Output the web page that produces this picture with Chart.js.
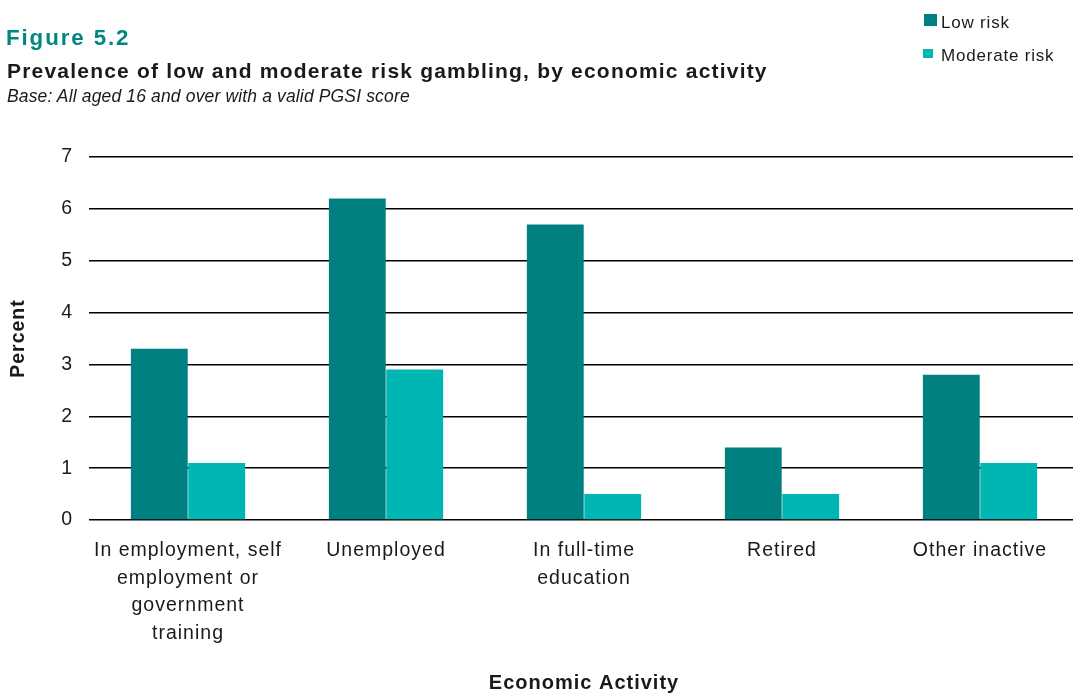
<!DOCTYPE html>
<html>
<head>
<meta charset="utf-8">
<title>Figure 5.2</title>
<script src="https://cdn.jsdelivr.net/npm/chart.js@4"></script>
<style>
  html, body { margin: 0; padding: 0; background: #fff; overflow: hidden; }
  body { width: 1073px; height: 693px; position: relative; font-family: 'Liberation Sans', Arial, sans-serif; color: #1a1a1a; }
  #wrap { position: absolute; left: 0; top: 0; width: 1082px; height: 693px; }
  .txt { position: absolute; line-height: 1; white-space: nowrap; }
  .fig-no { left: 6px; top: 27px; font-size: 22.3px; font-weight: bold; color: #00877f; letter-spacing: 1.9px; }
  .fig-title { left: 7px; top: 59.5px; font-size: 21px; font-weight: bold; letter-spacing: 1.2px; }
  .fig-base { left: 7px; top: 87.7px; font-size: 17.5px; font-style: italic; letter-spacing: 0.15px; }
  .swatch { position: absolute; }
  .legend-txt { font-size: 17px; letter-spacing: 0.8px; }
</style>
</head>
<body>
<div id="wrap"><canvas id="chart"></canvas></div>

<div class="txt fig-no">Figure 5.2</div>
<div class="txt fig-title">Prevalence of low and moderate risk gambling, by economic activity</div>
<div class="txt fig-base">Base: All aged 16 and over with a valid PGSI score</div>

<div class="swatch" style="left:924px;top:14px;width:13px;height:12px;background:#008080"></div>
<div class="txt legend-txt" style="left:941px;top:13.6px">Low risk</div>
<div class="swatch" style="left:923px;top:49px;width:10px;height:9px;background:#00b6b3"></div>
<div class="txt legend-txt" style="left:941px;top:46.6px">Moderate risk</div>

<script>
// Categories (multi-line labels) and percentages per series
var categories = [
  ['In employment, self', 'employment or', 'government', 'training'],
  'Unemployed',
  ['In full-time', 'education'],
  'Retired',
  'Other inactive'
];
var lowRisk      = [3.3, 6.2, 5.7, 1.4, 2.8];
var moderateRisk = [1.1, 2.9, 0.5, 0.5, 1.1];
var yTicks = [0, 1, 2, 3, 4, 5, 6, 7];

var textColour = '#1a1a1a';
var fontFamily = "'Liberation Sans', Arial, sans-serif";

// Slightly looser letter spacing for all canvas text
var letterSpacing = {
  id: 'letterSpacing',
  beforeLayout: function (chart) { chart.ctx.letterSpacing = '1px'; },
  beforeDraw: function (chart) { chart.ctx.letterSpacing = '1px'; }
};

new Chart(document.getElementById('chart'), {
  type: 'bar',
  data: {
    labels: categories,
    datasets: [
      { label: 'Low risk', data: lowRisk, backgroundColor: '#008080',
        categoryPercentage: 0.58, barPercentage: 0.99 },
      { label: 'Moderate risk', data: moderateRisk, backgroundColor: '#00b6b3',
        categoryPercentage: 0.58, barPercentage: 0.99 }
    ]
  },
  plugins: [letterSpacing],
  options: {
    responsive: true,
    maintainAspectRatio: false,
    animation: false,
    layout: { padding: { top: 157, right: 3, bottom: 0, left: 0 } },
    plugins: {
      legend: { display: false },
      tooltip: { enabled: false }
    },
    scales: {
      x: {
        grid: { display: false, drawTicks: false },
        border: { display: false },
        ticks: {
          color: textColour,
          padding: 17,
          maxRotation: 0,
          autoSkip: false,
          font: { family: fontFamily, size: 19.5, lineHeight: 1.41 }
        },
        title: {
          display: true,
          text: 'Economic Activity',
          color: textColour,
          padding: { top: 0, bottom: 0 },
          font: { family: fontFamily, size: 20, weight: 'bold', lineHeight: 1 }
        },
        afterFit: function (scale) { scale.height = 173; }
      },
      y: {
        min: 0,
        max: 7,
        afterBuildTicks: function (scale) {
          scale.ticks = yTicks.map(function (v) { return { value: v }; });
        },
        grid: { color: '#000', lineWidth: 1.5, drawTicks: false },
        border: { display: false },
        ticks: {
          color: textColour,
          padding: 16,
          font: { family: fontFamily, size: 19.5 }
        },
        title: {
          display: true,
          text: 'Percent',
          color: textColour,
          padding: { top: 7, bottom: 0 },
          font: { family: fontFamily, size: 19.5, weight: 'bold' }
        },
        afterFit: function (scale) { scale.width = 89; }
      }
    }
  }
});
</script>
</body>
</html>
